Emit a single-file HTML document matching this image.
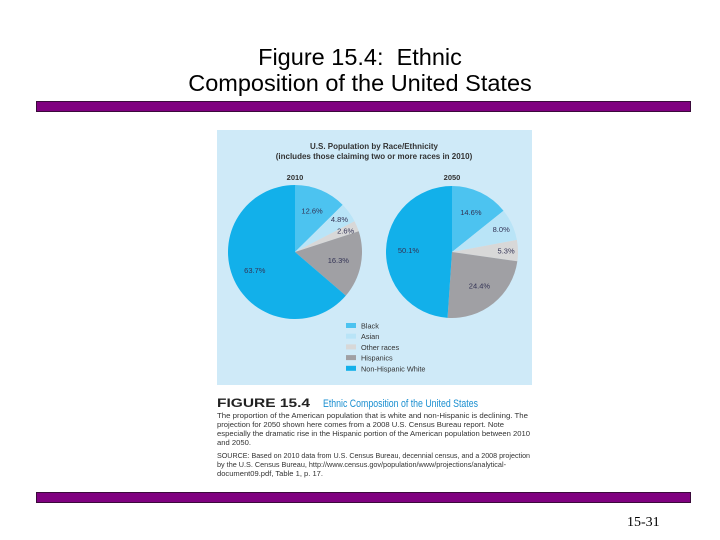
<!DOCTYPE html>
<html><head><meta charset="utf-8"><style>
body{margin:0;width:720px;height:540px;background:#fff;position:relative;overflow:hidden;font-family:"Liberation Sans",sans-serif}
.title{position:absolute;left:0;width:720px;top:44px;text-align:center;font-size:23.5px;line-height:26px;color:#000}
.bar{position:absolute;left:36px;width:653px;height:9px;background:#800080;border:1px solid #3a0a3a}
.pg{position:absolute;left:627px;top:515px;font-family:"Liberation Serif",serif;font-size:14px}
</style></head><body>
<div class="title">Figure 15.4:&nbsp; Ethnic<br>Composition of the United States</div>
<div class="bar" style="top:101px"></div>
<div class="bar" style="top:492px"></div>
<div class="pg">15-31</div>
<svg width="720" height="540" style="position:absolute;left:0;top:0" id="chart">
<rect x="217" y="130" width="315" height="255" fill="#cfeaf8"/>
<text x="374" y="149" text-anchor="middle" font-size="8" font-weight="bold" fill="#333">U.S. Population by Race/Ethnicity</text>
<text x="374" y="159" text-anchor="middle" font-size="8" font-weight="bold" fill="#333">(includes those claiming two or more races in 2010)</text>
<text x="295" y="180" text-anchor="middle" font-size="7.5" font-weight="bold" fill="#333">2010</text>
<text x="452" y="180" text-anchor="middle" font-size="7.5" font-weight="bold" fill="#333">2050</text>
<g id="pies"></g>
<g id="legend"></g>
<text x="217" y="407" font-size="12" font-weight="bold" fill="#222" textLength="93" lengthAdjust="spacingAndGlyphs">FIGURE 15.4</text>
<text x="323" y="407" font-size="11" fill="#1a8fd0" textLength="155" lengthAdjust="spacingAndGlyphs">Ethnic Composition of the United States</text>
<g font-size="7.2" fill="#333">
<text x="217" y="418" textLength="311" lengthAdjust="spacingAndGlyphs">The proportion of the American population that is white and non-Hispanic is declining. The</text>
<text x="217" y="427" textLength="287" lengthAdjust="spacingAndGlyphs">projection for 2050 shown here comes from a 2008 U.S. Census Bureau report. Note</text>
<text x="217" y="436" textLength="313" lengthAdjust="spacingAndGlyphs">especially the dramatic rise in the Hispanic portion of the American population between 2010</text>
<text x="217" y="445" textLength="34" lengthAdjust="spacingAndGlyphs">and 2050.</text>
<text x="217" y="458" textLength="313" lengthAdjust="spacingAndGlyphs">SOURCE: Based on 2010 data from U.S. Census Bureau, decennial census, and a 2008 projection</text>
<text x="217" y="467" textLength="289" lengthAdjust="spacingAndGlyphs">by the U.S. Census Bureau, http://www.census.gov/population/www/projections/analytical-</text>
<text x="217" y="476" textLength="106" lengthAdjust="spacingAndGlyphs">document09.pdf, Table 1, p. 17.</text>
</g>
</svg>
<script>
const categories=["Black","Asian","Other races","Hispanics","Non-Hispanic White"];
const values2010=[12.6,4.8,2.6,16.3,63.7];
const values2050=[14.6,8.0,5.3,24.4,50.1];
const colors=["#4cc3f0","#b9e4f7","#d8d8d8","#a0a0a4","#12b0ea"];
const NS="http://www.w3.org/2000/svg";
const pies=document.getElementById('pies');
function pt(cx,cy,r,f){const a=f*2*Math.PI;return [cx+r*Math.sin(a),cy-r*Math.cos(a)];}
function drawPie(vals,cx,cy,r,year){
  const tot=vals.reduce((a,b)=>a+b,0);let acc=0;
  vals.forEach((v,i)=>{
    const f0=acc/tot,f1=(acc+v)/tot;acc+=v;
    const p0=pt(cx,cy,r,f0),p1=pt(cx,cy,r,f1);
    const p=document.createElementNS(NS,'path');
    p.setAttribute('d',`M${cx},${cy}L${p0[0]},${p0[1]}A${r},${r} 0 ${f1-f0>0.5?1:0} 1 ${p1[0]},${p1[1]}Z`);
    p.setAttribute('fill',colors[i]);
    
    
    pies.appendChild(p);
    const lr=(v<10)?r*0.82:r*0.66;const lp=pt(cx,cy,lr,(f0+f1)/2);
    const t=document.createElementNS(NS,'text');
    t.setAttribute('x',lp[0]);t.setAttribute('y',lp[1]+2.5);
    t.setAttribute('text-anchor','middle');t.setAttribute('font-size','7.5');t.setAttribute('fill','#335');
    t.textContent=v.toFixed(1)+'%';
    
    
    pies.appendChild(t);
  });
}
drawPie(values2010,295,252,67,'2010');
drawPie(values2050,452,252,66,'2050');
const lg=document.getElementById('legend');
categories.forEach((c,i)=>{
  const y=323+i*10.7;
  const r=document.createElementNS(NS,'rect');
  r.setAttribute('x',346);r.setAttribute('y',y);r.setAttribute('width',10);r.setAttribute('height',5);r.setAttribute('fill',colors[i]);
  
  
  lg.appendChild(r);
  const t=document.createElementNS(NS,'text');
  t.setAttribute('x',361);t.setAttribute('y',y+5.5);t.setAttribute('font-size','7.3');t.setAttribute('fill','#333');
  t.textContent=c;
  
  
  lg.appendChild(t);
});
</script>
</body></html>
